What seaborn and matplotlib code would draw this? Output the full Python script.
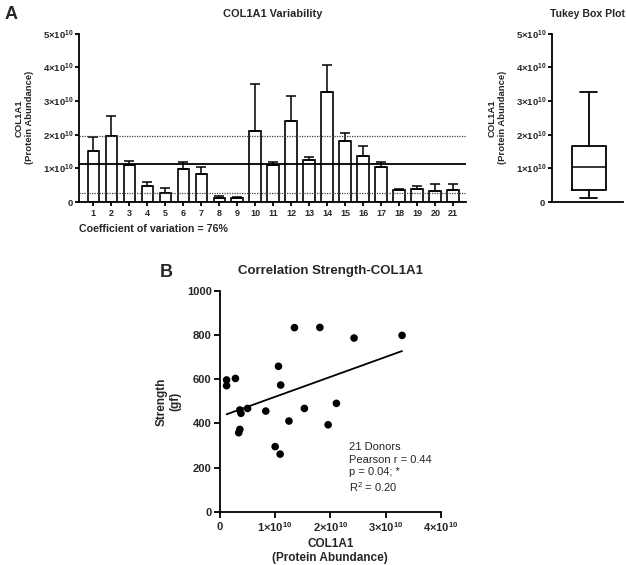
"""COL1A1 variability + correlation with strength."""
import numpy as np
import pandas as pd
import matplotlib
matplotlib.use("Agg")
import matplotlib.pyplot as plt
from matplotlib.ticker import FuncFormatter, MultipleLocator
import seaborn as sns

sns.set_style("ticks")
plt.rcParams["font.family"] = ["Liberation Sans", "DejaVu Sans"]
plt.rcParams["mathtext.fontset"] = "custom"
plt.rcParams["mathtext.rm"] = "Liberation Sans"
plt.rcParams["mathtext.bf"] = "Liberation Sans:bold"

# --- data (units of 1e10) ---
donors = [str(i) for i in range(1, 22)]
col1a1_mean = [1.51, 1.96, 1.09, 0.48, 0.27, 0.98, 0.81, 0.11, 0.10, 2.09, 1.09,
               2.40, 1.23, 3.27, 1.80, 1.35, 1.04, 0.35, 0.37, 0.32, 0.36]
col1a1_err = [0.42, 0.60, 0.13, 0.11, 0.15, 0.19, 0.21, 0.07, 0.04, 1.41, 0.08,
              0.76, 0.09, 0.81, 0.24, 0.31, 0.15, 0.04, 0.10, 0.20, 0.16]
grand_mean = 1.11
grand_sd = 0.845

scatter_x = [0.12, 0.12, 0.28, 0.36, 0.38, 0.50, 0.34, 0.36, 0.83, 1.00, 1.09,
             1.06, 1.10, 1.25, 1.35, 1.53, 1.81, 1.96, 2.11, 2.43, 3.30]
strength = [597, 571, 604, 461, 446, 468, 358, 373, 456, 295, 261,
            659, 574, 411, 834, 468, 835, 394, 491, 787, 799]
stats_text = "21 Donors\nPearson r = 0.44\np = 0.04; *\nR$^2$ = 0.20"

E10 = 1e10
bold = dict(fontweight="bold")


def sci_fmt(v, pos):
    n = v / E10
    if abs(n) < 1e-9:
        return r"$\mathbf{0}$"
    return r"$\mathbf{%d{\times}10^{10}}$" % round(n)


def style(ax, lw=1.3):
    sns.despine(ax=ax)
    for s in ("left", "bottom"):
        ax.spines[s].set_linewidth(lw)
        ax.spines[s].set_color("black")
    ax.tick_params(width=lw, color="black")


fig = plt.figure(figsize=(6.26, 5.65), dpi=100)

# ---------- A: bar chart ----------
ax1 = fig.add_axes([0.1262, 0.643, 0.618, 0.2973])
df = pd.DataFrame({"donor": donors, "val": np.array(col1a1_mean) * E10})
sns.barplot(data=df, x="donor", y="val", ax=ax1, color="white", edgecolor="black",
            linewidth=1.2, width=0.65, errorbar=None, saturation=1)
ax1.errorbar(np.arange(21), df["val"], yerr=[np.zeros(21), np.array(col1a1_err) * E10],
             fmt="none", ecolor="black", elinewidth=1.1, capsize=3.5, capthick=1.1, zorder=1)
ax1.axhline(grand_mean * E10, color="black", lw=1.3, zorder=3)
for v in (grand_mean + grand_sd, grand_mean - grand_sd):
    ax1.axhline(v * E10, color="#444444", lw=0.9, ls=(0, (1, 1)), zorder=3)
ax1.set_xlim(-0.8, 20.7)
ax1.set_ylim(0, 5 * E10)
ax1.yaxis.set_major_locator(MultipleLocator(E10))
ax1.yaxis.set_major_formatter(FuncFormatter(sci_fmt))
ax1.set_xlabel("")
ax1.set_ylabel("COL1A1\n(Protein Abundance)", fontsize=6.8, **bold, labelpad=6)
ax1.set_title("COL1A1 Variability", fontsize=7.9, **bold, pad=12)
style(ax1)
ax1.tick_params(axis="y", labelsize=6.8, length=3, pad=1)
ax1.tick_params(axis="x", labelsize=6.5, length=3, pad=2)
for t in ax1.get_xticklabels():
    t.set_fontweight("bold")
ax1.text(0.0, -0.16, "Coefficient of variation = 76%", transform=ax1.transAxes,
         fontsize=7.7, **bold, va="center", ha="left")
fig.text(0.008, 0.975, "A", fontsize=13, **bold, va="center")

# ---------- A: Tukey box plot ----------
ax2 = fig.add_axes([0.8813, 0.643, 0.1139, 0.2973])
vals = np.array(col1a1_mean) * E10
q1, med, q3 = np.percentile(vals, [25, 50, 75], method="weibull")
iqr = q3 - q1
lo = vals[vals >= q1 - 1.5 * iqr].min()
hi = vals[vals <= q3 + 1.5 * iqr].max()
ax2.bxp([dict(med=med, q1=q1, q3=q3, whislo=lo, whishi=hi, fliers=[])], positions=[0.02],
        widths=0.48, showfliers=False,
        boxprops=dict(color="black", lw=1.3), medianprops=dict(color="black", lw=1.1),
        whiskerprops=dict(color="black", lw=1.3), capprops=dict(color="black", lw=1.3))
ax2.set_xlim(-0.5, 0.5)
ax2.set_ylim(0, 5 * E10)
ax2.yaxis.set_major_locator(MultipleLocator(E10))
ax2.yaxis.set_major_formatter(FuncFormatter(sci_fmt))
ax2.set_xticks([])
ax2.set_ylabel("COL1A1\n(Protein Abundance)", fontsize=6.8, **bold, labelpad=6)
ax2.set_title("Tukey Box Plot", fontsize=7.6, **bold, pad=12)
style(ax2)
ax2.tick_params(axis="y", labelsize=6.8, length=3, pad=1)

# ---------- B: correlation ----------
ax3 = fig.add_axes([0.3514, 0.0943, 0.3526, 0.3906])
sdf = pd.DataFrame({"x": np.array(scatter_x) * E10, "y": strength})
sns.regplot(data=sdf, x="x", y="y", ax=ax3, ci=None, truncate=True,
            scatter_kws=dict(s=30, color="black", edgecolor="none", alpha=1),
            line_kws=dict(color="black", lw=1.3))
ax3.set_xlim(0, 4 * E10)
ax3.set_ylim(0, 1000)
ax3.xaxis.set_major_locator(MultipleLocator(E10))
ax3.xaxis.set_major_formatter(FuncFormatter(sci_fmt))
ax3.yaxis.set_major_locator(MultipleLocator(200))
ax3.set_xlabel("COL1A1\n(Protein Abundance)", fontsize=8.5, **bold, labelpad=3)
ax3.set_ylabel("Strength\n(gf)", fontsize=8.5, **bold, labelpad=4)
ax3.set_title("Correlation Strength-COL1A1", fontsize=9.5, **bold, pad=12)
style(ax3)
ax3.tick_params(labelsize=8, length=4, pad=2)
for t in ax3.get_yticklabels():
    t.set_fontweight("bold")
ax3.text(0.585, 0.315, stats_text, transform=ax3.transAxes, fontsize=8,
         va="top", ha="left", linespacing=1.3)
fig.text(0.255, 0.517, "B", fontsize=13, **bold, va="center")

fig.savefig("out.png", dpi=100)
